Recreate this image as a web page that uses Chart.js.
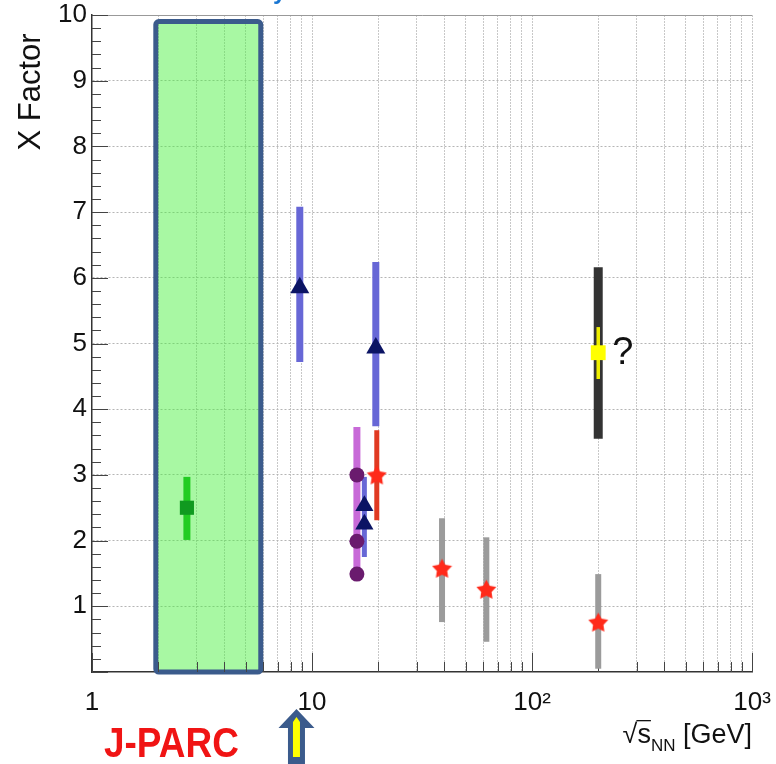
<!DOCTYPE html>
<html>
<head>
<meta charset="utf-8">
<script src="https://cdn.jsdelivr.net/npm/chart.js@4.4.1/dist/chart.umd.min.js"></script>
<style>
  html, body { margin: 0; padding: 0; background: #fff; }
  canvas { display: block; }
</style>
</head>
<body>
<canvas id="chart" width="776" height="764"></canvas>
<script>
/* X factor vs sqrt(s_NN): log x axis, error bars as 2-point lines */

// ---- axis ticks ----
const X_TICK_VALUES = [1, 10, 100, 1000];
const X_TICK_LABELS = ["1", "10", "10²", "10³"];
const Y_TICK_VALUES = [1, 2, 3, 4, 5, 6, 7, 8, 9, 10];

// ---- J-PARC band / arrow ----
const JPARC_BAND = [1.95, 5.85];
const JPARC_TOP = 9.9;
const ARROW_AT = 8.5;

// ---- data ----
// green square (AGS)
const agsX = [2.7], agsY = [2.5], agsLo = [2.01], agsHi = [2.97];
// navy triangles with wide blue bars
const triX = [8.8, 19.5], triY = [5.85, 4.93], triLo = [4.72, 3.74], triHi = [7.08, 6.24];
// navy triangles at 17.3 + their bar
const tri2X = [17.3, 17.3], tri2Y = [2.53, 2.25];
const tri2BarX = [17.3], tri2Lo = [1.75], tri2Hi = [2.97];
// purple circles + bar
const circX = [16, 16, 16], circY = [3.0, 1.99, 1.49];
const circBarX = [16], circLo = [1.51], circHi = [3.73];
// red stars
const starX = [19.7, 39, 62, 200], starY = [3.0, 1.58, 1.26, 0.76];
const redBarX = [19.7], redLo = [2.31], redHi = [3.68];
const grayBarX = [39, 62, 200], grayLo = [0.76, 0.46, 0.05], grayHi = [2.34, 2.05, 1.49];
// yellow square with black band
const yelX = [200], yelY = [4.86];
const blackLo = [3.55], blackHi = [6.16];
const yelLo = [4.46], yelHi = [5.25];

const FONT = '"Liberation Sans", Arial, sans-serif';
const isInt = v => Math.abs(v - Math.round(v)) < 1e-6;

// log grid: 1..9 in each decade
const X_GRID = [];
for (let d = 1; d < 1000; d *= 10) for (let k = 1; k <= 9; k++) X_GRID.push(k * d);
X_GRID.push(1000);

function starImage(size, color) {
  const c = document.createElement("canvas");
  c.width = c.height = size;
  const g = c.getContext("2d");
  const R = size / 2, r = R * 0.52;
  g.beginPath();
  for (let i = 0; i < 10; i++) {
    const a = -Math.PI / 2 + i * Math.PI / 5;
    const rr = i % 2 ? r : R;
    g.lineTo(R + rr * Math.cos(a), R + 1 + rr * Math.sin(a));
  }
  g.closePath();
  g.fillStyle = color;
  g.fill();
  return c;
}

function bars(xs, lo, hi, color, width, order) {
  return xs.map((x, i) => ({
    data: [{ x, y: lo[i] }, { x, y: hi[i] }],
    showLine: true, borderColor: color, borderWidth: width,
    pointRadius: 0, order
  }));
}

function marks(xs, ys, style, radius, color, order = 1) {
  return {
    data: xs.map((x, i) => ({ x, y: ys[i] })),
    showLine: false, pointStyle: style, pointRadius: radius,
    backgroundColor: color, borderColor: color, pointBorderWidth: 0, order
  };
}

/* green J-PARC box, behind the data */
const jparcBand = {
  id: "jparcBand",
  beforeDatasetsDraw(chart) {
    const { ctx, scales: { x, y } } = chart;
    const l = x.getPixelForValue(JPARC_BAND[0]), r = x.getPixelForValue(JPARC_BAND[1]);
    const t = y.getPixelForValue(JPARC_TOP), b = y.getPixelForValue(0);
    ctx.save();
    ctx.beginPath();
    ctx.roundRect(l, t, r - l, b - t, 3);
    ctx.fillStyle = "rgba(70,240,60,0.47)";
    ctx.fill();
    ctx.lineWidth = 5;
    ctx.strokeStyle = "#3b5b8c";
    ctx.stroke();
    ctx.restore();
  }
};

/* ROOT-style ticks pointing into the frame */
const innerTicks = {
  id: "innerTicks",
  beforeDatasetsDraw(chart) {
    const { ctx, chartArea: a, scales: { x, y } } = chart;
    ctx.save();
    ctx.strokeStyle = "#444";
    ctx.lineWidth = 1;
    ctx.beginPath();
    x.ticks.forEach(t => {
      const px = Math.round(x.getPixelForValue(t.value)) + 0.5;
      const len = X_TICK_VALUES.includes(t.value) ? 19 : 10;
      ctx.moveTo(px, a.bottom);
      ctx.lineTo(px, a.bottom - len);
    });
    y.ticks.forEach(t => {
      const py = Math.round(y.getPixelForValue(t.value)) + 0.5;
      const len = isInt(t.value) ? 16 : 9;
      ctx.moveTo(a.left, py);
      ctx.lineTo(a.left + len, py);
    });
    ctx.stroke();
    ctx.restore();
  }
};

/* titles and the extra labels around the frame */
const annotations = {
  id: "annotations",
  afterDraw(chart) {
    const { ctx, scales: { x, y } } = chart;
    ctx.save();
    ctx.fillStyle = "#111";
    ctx.textBaseline = "alphabetic";

    // y title
    ctx.save();
    ctx.font = "31px " + FONT;
    ctx.translate(40, 92);
    ctx.rotate(-Math.PI / 2);
    ctx.textAlign = "center";
    ctx.fillText("X Factor", 0, 0);
    ctx.restore();

    // x title: √s_NN [GeV], right aligned to the frame
    const base = 743, big = "27px " + FONT, small = "17px " + FONT;
    ctx.font = big;
    const wRoot = ctx.measureText("√").width, wS = ctx.measureText("s").width, wG = ctx.measureText(" [GeV]").width;
    ctx.font = small;
    const wNN = ctx.measureText("NN").width;
    let px = chart.chartArea.right - wG - wNN - wS - wRoot;
    ctx.font = big;
    ctx.fillText("√", px, base);
    ctx.fillRect(px + wRoot - 1, base - 23, wS + 1, 1.3);
    ctx.fillText("s", px + wRoot, base);
    ctx.font = small;
    ctx.fillText("NN", px + wRoot + wS, base + 8);
    ctx.font = big;
    ctx.fillText(" [GeV]", px + wRoot + wS + wNN, base);

    // "?" next to the yellow point
    ctx.font = "38px " + FONT;
    ctx.fillText("?", x.getPixelForValue(yelX[0]) + 14, y.getPixelForValue(yelY[0]) + 11);

    // J-PARC label (condensed bold)
    ctx.save();
    ctx.font = "bold 42px " + FONT;
    ctx.fillStyle = "#f01414";
    ctx.translate(104, 757);
    ctx.scale(0.88, 1);
    ctx.fillText("J-PARC", 0, 0);
    ctx.restore();

    // arrow under the axis
    const ax = x.getPixelForValue(ARROW_AT);
    ctx.fillStyle = "#3b5b8c";
    ctx.beginPath();
    ctx.moveTo(ax, 709);
    ctx.lineTo(ax + 18, 728);
    ctx.lineTo(ax + 8.5, 728);
    ctx.lineTo(ax + 8.5, 764);
    ctx.lineTo(ax - 8.5, 764);
    ctx.lineTo(ax - 8.5, 728);
    ctx.lineTo(ax - 18, 728);
    ctx.closePath();
    ctx.fill();
    ctx.fillStyle = "#ffff00";
    ctx.beginPath();
    ctx.moveTo(ax - 3.5, 722);
    ctx.lineTo(ax, 717);
    ctx.lineTo(ax + 3.5, 722);
    ctx.lineTo(ax + 3.5, 757);
    ctx.lineTo(ax - 3.5, 757);
    ctx.closePath();
    ctx.fill();

    // cut-off blue title above the frame
    ctx.fillStyle = "#1976d2";
    ctx.font = "bold 24px " + FONT;
    ctx.fillText("y", 273, -1);
    ctx.restore();
  }
};

const redStar = starImage(21, "#ff2a1a");

const datasets = [
  ...bars(circBarX, circLo, circHi, "#c86ad8", 7, 6),
  ...bars(agsX, agsLo, agsHi, "#22cc22", 7, 5),
  ...bars(triX, triLo, triHi, "#6767d6", 7, 5),
  ...bars(tri2BarX, tri2Lo, tri2Hi, "#6767d6", 5, 5),
  ...bars(grayBarX, grayLo, grayHi, "#9b9b9b", 6, 5),
  ...bars(blackLo.map(() => yelX[0]), blackLo, blackHi, "#333333", 9, 5),
  ...bars(redBarX, redLo, redHi, "#e03a22", 5, 4),
  ...bars(yelX, yelLo, yelHi, "#eeee00", 3.5, 4),
  marks(agsX, agsY, "rect", 10, "#109a20"),
  marks(triX, triY, "triangle", 11, "#0b1464"),
  marks(tri2X, tri2Y, "triangle", 10.5, "#0b1464"),
  marks(circX, circY, "circle", 7.5, "#6a1b6e"),
  marks(starX, starY, redStar, 10.5, "#ff2a1a"),
  marks(yelX, yelY, "rect", 10.5, "#ffff00")
];

new Chart(document.getElementById("chart"), {
  type: "scatter",
  data: { datasets },
  options: {
    responsive: false,
    animation: false,
    events: [],
    layout: { padding: { top: 15, right: 24, left: 0, bottom: 0 } },
    plugins: { legend: { display: false }, tooltip: { enabled: false } },
    scales: {
      x: {
        type: "logarithmic", min: 1, max: 1000,
        afterBuildTicks(s) { s.ticks = X_GRID.map(v => ({ value: v })); },
        afterFit(s) { s.height = 92; s.paddingLeft = 0; s.paddingRight = 0; },
        grid: { color: c => (c.tick && c.tick.value > 1 ? "#c8c8c8" : "rgba(0,0,0,0)"), drawTicks: false },
        border: { color: "#333", width: 1.5, dash: [2, 1] },
        ticks: {
          autoSkip: false, maxRotation: 0, padding: 15, color: "#111",
          font: { family: FONT, size: 26 },
          callback: v => { const i = X_TICK_VALUES.indexOf(v); return i >= 0 ? X_TICK_LABELS[i] : ""; }
        }
      },
      y: {
        min: 0, max: 10,
        afterFit(s) { s.width = 92; s.paddingTop = 0; s.paddingBottom = 0; },
        grid: {
          color: c => (c.tick && isInt(c.tick.value) && c.tick.value > 0 ? (c.tick.value === 10 ? "#999" : "#b5b5b5") : "rgba(0,0,0,0)"),
          drawTicks: false
        },
        border: { color: "#333", width: 1.5, dash: c => (c.tick && c.tick.value === 10 ? [] : [2, 2]) },
        ticks: {
          stepSize: 0.2, autoSkip: false, padding: 5, color: "#111",
          font: { family: FONT, size: 26 },
          callback: v => (isInt(v) && Y_TICK_VALUES.includes(Math.round(v)) ? String(Math.round(v)) : "")
        }
      }
    }
  },
  plugins: [jparcBand, innerTicks, annotations]
});
</script>
</body>
</html>
